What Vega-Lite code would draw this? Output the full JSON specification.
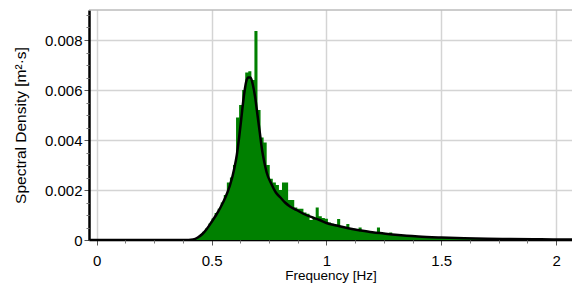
{
  "$schema": "https://vega.github.io/schema/vega-lite/v6.json",
  "width": 483,
  "height": 230,
  "autosize": {"type": "none"},
  "padding": {"left": 89, "top": 10, "right": 0, "bottom": 54},
  "background": "white",
  "config": {
    "view": {"stroke": null},
    "font": "Liberation Sans"
  },
  "datasets": {
    "bars": [
      {"f": 0.42, "s": 0}, {"f": 0.4267, "s": 0.00004}, {"f": 0.44, "s": 0.0001}, {"f": 0.4533, "s": 0.0002},
      {"f": 0.4667, "s": 0.00033}, {"f": 0.48, "s": 0.00047}, {"f": 0.4933, "s": 0.00066},
      {"f": 0.5067, "s": 0.00086}, {"f": 0.52, "s": 0.00108}, {"f": 0.5333, "s": 0.00125},
      {"f": 0.5467, "s": 0.0015}, {"f": 0.56, "s": 0.0018}, {"f": 0.5733, "s": 0.0023},
      {"f": 0.5867, "s": 0.0025}, {"f": 0.6, "s": 0.003}, {"f": 0.6133, "s": 0.0049},
      {"f": 0.6267, "s": 0.0054}, {"f": 0.64, "s": 0.006}, {"f": 0.6533, "s": 0.0067},
      {"f": 0.6667, "s": 0.00675}, {"f": 0.68, "s": 0.0064}, {"f": 0.6933, "s": 0.00836},
      {"f": 0.7067, "s": 0.0052}, {"f": 0.72, "s": 0.0041}, {"f": 0.7333, "s": 0.0039},
      {"f": 0.7467, "s": 0.003}, {"f": 0.76, "s": 0.00245}, {"f": 0.7733, "s": 0.0023},
      {"f": 0.7867, "s": 0.0022}, {"f": 0.8, "s": 0.002}, {"f": 0.8133, "s": 0.0023},
      {"f": 0.8267, "s": 0.0023}, {"f": 0.84, "s": 0.0016}, {"f": 0.8533, "s": 0.0016},
      {"f": 0.8667, "s": 0.0013}, {"f": 0.88, "s": 0.00125}, {"f": 0.8933, "s": 0.00125},
      {"f": 0.9067, "s": 0.0011}, {"f": 0.92, "s": 0.00105}, {"f": 0.9333, "s": 0.0008},
      {"f": 0.9467, "s": 0.00085}, {"f": 0.96, "s": 0.0013}, {"f": 0.9733, "s": 0.00095},
      {"f": 0.9867, "s": 0.00088}, {"f": 1.0, "s": 0.00085}, {"f": 1.0133, "s": 0.0007},
      {"f": 1.0267, "s": 0.00065}, {"f": 1.04, "s": 0.00062}, {"f": 1.0533, "s": 0.00084},
      {"f": 1.0667, "s": 0.00055}, {"f": 1.08, "s": 0.00052}, {"f": 1.0933, "s": 0.00064},
      {"f": 1.1067, "s": 0.00048}, {"f": 1.12, "s": 0.00045}, {"f": 1.1333, "s": 0.00042},
      {"f": 1.1467, "s": 0.0005}, {"f": 1.16, "s": 0.00038}, {"f": 1.1733, "s": 0.00036},
      {"f": 1.1867, "s": 0.00034}, {"f": 1.2, "s": 0.0003}, {"f": 1.2133, "s": 0.00032},
      {"f": 1.2267, "s": 0.0005}, {"f": 1.24, "s": 0.00028}, {"f": 1.2533, "s": 0.00026},
      {"f": 1.2667, "s": 0.00025}, {"f": 1.28, "s": 0.0003}, {"f": 1.2933, "s": 0.00022},
      {"f": 1.3067, "s": 0.0002}, {"f": 1.32, "s": 0.00019}, {"f": 1.3333, "s": 0.00017},
      {"f": 1.3467, "s": 0.0002}, {"f": 1.36, "s": 0.00016}, {"f": 1.3733, "s": 0.00015},
      {"f": 1.3867, "s": 0.00014}, {"f": 1.4, "s": 0.00013}, {"f": 1.4133, "s": 0.00014},
      {"f": 1.4267, "s": 0.00012}, {"f": 1.44, "s": 0.00011}, {"f": 1.4533, "s": 0.00011},
      {"f": 1.4667, "s": 0.00011}, {"f": 1.48, "s": 0.0001}, {"f": 1.4933, "s": 0.0001},
      {"f": 1.5067, "s": 0.00012}, {"f": 1.52, "s": 0.0001}, {"f": 1.5333, "s": 0.00009},
      {"f": 1.5467, "s": 0.00008}, {"f": 1.56, "s": 0.00009}, {"f": 1.5733, "s": 0.00008},
      {"f": 1.5867, "s": 0.00007}, {"f": 1.6, "s": 0.00007}, {"f": 1.6133, "s": 0.00007},
      {"f": 1.6267, "s": 0.00007}, {"f": 1.64, "s": 0.00006}, {"f": 1.6533, "s": 0.00006},
      {"f": 1.6667, "s": 0.00006}, {"f": 1.68, "s": 0.00006}, {"f": 1.6933, "s": 0.00005},
      {"f": 1.7067, "s": 0.00005}, {"f": 1.72, "s": 0.00004}, {"f": 1.7267, "s": 0}
    ],
    "curve": [
      {"f": -0.034, "s": 0}, {"f": 0.38, "s": 0}, {"f": 0.40, "s": 0}, {"f": 0.42, "s": 0.00002},
      {"f": 0.44, "s": 0.0001}, {"f": 0.46, "s": 0.00024}, {"f": 0.48, "s": 0.00045},
      {"f": 0.50, "s": 0.00072}, {"f": 0.52, "s": 0.001}, {"f": 0.54, "s": 0.00132},
      {"f": 0.56, "s": 0.0017}, {"f": 0.58, "s": 0.00218}, {"f": 0.60, "s": 0.0029},
      {"f": 0.61, "s": 0.0034}, {"f": 0.62, "s": 0.0041}, {"f": 0.63, "s": 0.0049},
      {"f": 0.64, "s": 0.0057}, {"f": 0.65, "s": 0.0063}, {"f": 0.66, "s": 0.0065},
      {"f": 0.67, "s": 0.0065}, {"f": 0.68, "s": 0.0062}, {"f": 0.69, "s": 0.0057},
      {"f": 0.70, "s": 0.005}, {"f": 0.71, "s": 0.0043}, {"f": 0.72, "s": 0.0036},
      {"f": 0.73, "s": 0.0031}, {"f": 0.74, "s": 0.0027}, {"f": 0.76, "s": 0.00225},
      {"f": 0.78, "s": 0.0019}, {"f": 0.80, "s": 0.0017}, {"f": 0.82, "s": 0.0015},
      {"f": 0.84, "s": 0.00135}, {"f": 0.87, "s": 0.0012}, {"f": 0.90, "s": 0.00105},
      {"f": 0.94, "s": 0.0009}, {"f": 0.97, "s": 0.0008}, {"f": 1.00, "s": 0.00068},
      {"f": 1.05, "s": 0.00057}, {"f": 1.10, "s": 0.00046}, {"f": 1.15, "s": 0.00038},
      {"f": 1.20, "s": 0.00031}, {"f": 1.25, "s": 0.00026}, {"f": 1.30, "s": 0.00021},
      {"f": 1.35, "s": 0.00017}, {"f": 1.40, "s": 0.00014}, {"f": 1.50, "s": 0.0001},
      {"f": 1.60, "s": 0.00007}, {"f": 1.70, "s": 0.00005}, {"f": 1.80, "s": 0.00004},
      {"f": 1.90, "s": 0.00003}, {"f": 2.00, "s": 0.00002}, {"f": 2.07, "s": 0.00002}
    ],
    "frame": [{"top": 0.0092}]
  },
  "layer": [
    {
      "data": {"name": "bars"},
      "mark": {"type": "area", "color": "#008000", "interpolate": "step", "opacity": 1},
      "encoding": {
        "x": {
          "field": "f", "type": "quantitative",
          "scale": {"domain": [-0.0335, 2.0692], "nice": false, "zero": false, "padding": 0},
          "axis": {
            "orient": "bottom",
            "values": [0, 0.5, 1, 1.5, 2],
            "format": "~g",
            "grid": true, "gridColor": "#d4d4d4", "gridWidth": 1.5,
            "domain": true, "domainColor": "#000000", "domainWidth": 1.5,
            "ticks": true, "tickColor": "#555555", "tickSize": 5,
            "labelFont": "Liberation Sans", "labelFontSize": 15, "labelColor": "#000000",
            "labelPadding": 8, "labelFlush": false,
            "title": "Frequency [Hz]", "titleFont": "Liberation Sans", "titleFontSize": 13.5,
            "titleFontWeight": "normal", "titleColor": "#000000", "titlePadding": 0
          }
        },
        "y": {
          "field": "s", "type": "quantitative",
          "scale": {"domain": [0, 0.0092], "nice": false, "padding": 0},
          "axis": {
            "orient": "left",
            "values": [0, 0.002, 0.004, 0.006, 0.008],
            "format": "~g",
            "grid": true, "gridColor": "#d4d4d4", "gridWidth": 1.5,
            "domain": true, "domainColor": "#000000", "domainWidth": 2.5,
            "ticks": true, "tickColor": "#555555", "tickSize": 5,
            "labelFont": "Liberation Sans", "labelFontSize": 15, "labelColor": "#000000",
            "labelPadding": 2,
            "title": "Spectral Density [m²·s]", "titleFont": "Liberation Sans", "titleFontSize": 15.5,
            "titleFontWeight": "normal", "titleColor": "#000000", "titlePadding": 15.5
          }
        }
      }
    },
    {
      "data": {"name": "curve"},
      "mark": {"type": "line", "color": "#000000", "strokeWidth": 2.5, "interpolate": "monotone", "clip": true},
      "encoding": {
        "x": {
          "field": "f", "type": "quantitative",
          "axis": {
            "orient": "bottom",
            "values": [0.125, 0.25, 0.375, 0.625, 0.75, 0.875, 1.125, 1.25, 1.375, 1.625, 1.75, 1.875],
            "labels": false, "grid": false, "domain": false,
            "ticks": true, "tickColor": "#777777", "tickSize": 3, "title": null
          }
        },
        "y": {
          "field": "s", "type": "quantitative",
          "axis": {
            "orient": "left",
            "values": [0.0005, 0.001, 0.0015, 0.0025, 0.003, 0.0035, 0.0045, 0.005, 0.0055, 0.0065, 0.007, 0.0075, 0.0085, 0.009],
            "labels": false, "grid": false, "domain": false,
            "ticks": true, "tickColor": "#777777", "tickSize": 3, "title": null
          }
        }
      }
    },
    {
      "data": {"name": "frame"},
      "mark": {"type": "rule", "color": "#9a9a9a", "strokeWidth": 1},
      "encoding": {
        "y": {"field": "top", "type": "quantitative", "axis": null}
      }
    }
  ],
  "resolve": {"axis": {"x": "independent", "y": "independent"}}
}
